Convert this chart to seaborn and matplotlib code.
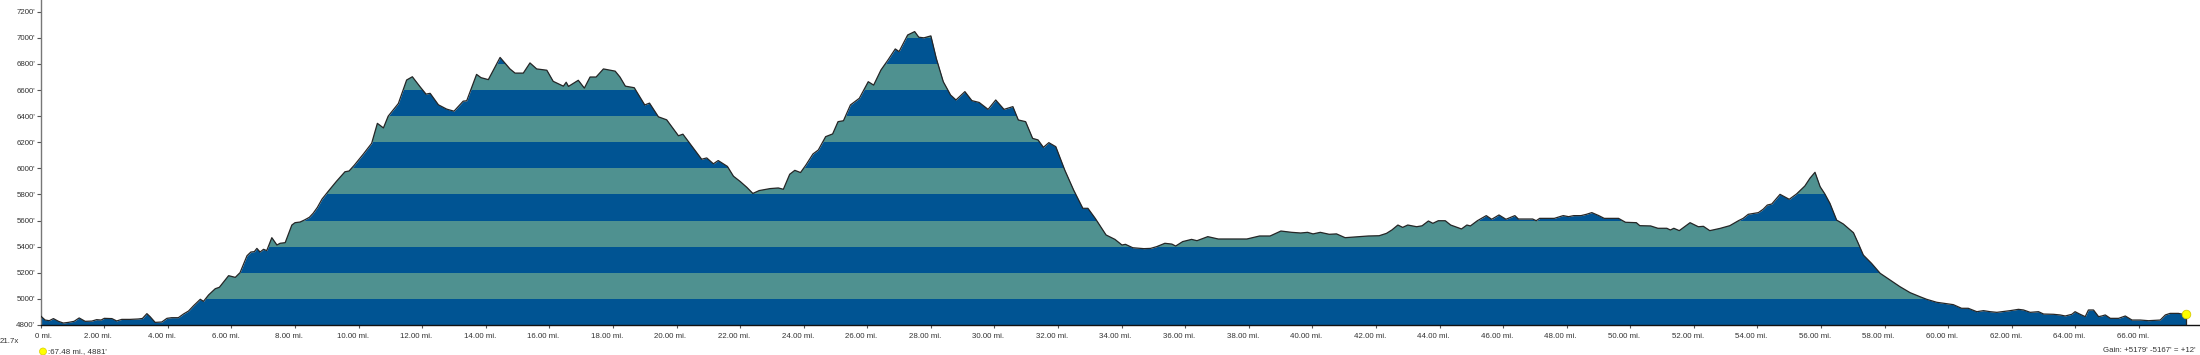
import matplotlib
matplotlib.use("Agg")
import matplotlib.pyplot as plt
import matplotlib.transforms as mtransforms
from matplotlib.patches import Ellipse
import pandas as pd
import seaborn as sns


# elevation profile (miles, feet)
MILES = [
    0.00, 0.14, 0.27, 0.40, 0.56, 0.71, 0.87, 1.05, 1.21, 1.40, 1.61, 1.76, 1.90, 2.00, 2.24, 2.39,
    2.55, 2.81, 3.07, 3.20, 3.34, 3.44, 3.60, 3.81, 3.97, 4.12, 4.33, 4.49, 4.65, 4.81, 5.02, 5.12,
    5.28, 5.49, 5.62, 5.91, 6.12, 6.27, 6.49, 6.61, 6.72, 6.80, 6.90, 7.01, 7.11, 7.27, 7.43, 7.53,
    7.69, 7.90, 8.00, 8.16, 8.30, 8.45, 8.57, 8.70, 8.85, 9.08, 9.30, 9.57, 9.70, 9.87, 10.15, 10.41,
    10.59, 10.78, 10.93, 11.25, 11.51, 11.69, 11.93, 12.12, 12.25, 12.51, 12.77, 13.00, 13.29, 13.40,
    13.71, 13.85, 14.08, 14.45, 14.76, 14.92, 15.18, 15.39, 15.60, 15.92, 16.12, 16.44, 16.53, 16.60,
    16.91, 17.10, 17.28, 17.47, 17.70, 18.07, 18.22, 18.39, 18.67, 19.00, 19.15, 19.43, 19.69, 20.06,
    20.20, 20.50, 20.79, 20.95, 21.16, 21.31, 21.60, 21.79, 22.00, 22.21, 22.40, 22.60, 22.94, 23.20,
    23.36, 23.56, 23.72, 23.90, 24.07, 24.29, 24.46, 24.69, 24.91, 25.08, 25.25, 25.47, 25.75, 26.03,
    26.20, 26.43, 26.65, 26.88, 27.00, 27.27, 27.49, 27.62, 27.78, 28.00, 28.17, 28.39, 28.62, 28.79,
    29.07, 29.29, 29.52, 29.80, 30.04, 30.30, 30.58, 30.75, 30.98, 31.20, 31.37, 31.54, 31.71, 31.93,
    32.21, 32.49, 32.78, 32.94, 33.17, 33.51, 33.79, 34.01, 34.12, 34.35, 34.70, 34.91, 35.10, 35.36,
    35.58, 35.70, 35.92, 36.20, 36.37, 36.71, 37.04, 37.94, 38.34, 38.67, 39.01, 39.35, 39.63, 39.85,
    40.02, 40.25, 40.53, 40.76, 41.03, 41.31, 41.76, 42.10, 42.33, 42.50, 42.69, 42.84, 43.00, 43.28,
    43.45, 43.65, 43.79, 43.96, 44.18, 44.35, 44.69, 44.86, 44.97, 45.19, 45.47, 45.64, 45.87, 46.09,
    46.37, 46.48, 46.93, 47.04, 47.15, 47.61, 47.89, 48.06, 48.22, 48.45, 48.62, 48.79, 49.01, 49.18,
    49.63, 49.85, 50.19, 50.30, 50.64, 50.87, 51.15, 51.26, 51.37, 51.54, 51.88, 52.14, 52.30, 52.50,
    52.82, 53.13, 53.40, 53.55, 53.71, 54.03, 54.18, 54.31, 54.45, 54.71, 55.00, 55.23, 55.49, 55.65,
    55.81, 55.97, 56.12, 56.28, 56.49, 56.70, 57.02, 57.17, 57.33, 57.59, 57.86, 58.17, 58.48, 58.80,
    59.11, 59.32, 59.64, 60.00, 60.16, 60.42, 60.63, 60.90, 61.11, 61.32, 61.53, 61.69, 61.95, 62.21,
    62.37, 62.58, 62.84, 63.00, 63.31, 63.52, 63.68, 63.89, 63.99, 64.15, 64.31, 64.41, 64.57, 64.73,
    64.83, 64.94, 65.10, 65.36, 65.57, 65.78, 66.04, 66.30, 66.67, 66.83, 66.98, 67.24, 67.38, 67.48,
]
ELEV_FT = [
    4869, 4838, 4833, 4849, 4828, 4815, 4820, 4828, 4854, 4828, 4830, 4841, 4838, 4851, 4849, 4831,
    4843, 4843, 4846, 4850, 4887, 4864, 4820, 4823, 4851, 4856, 4856, 4884, 4907, 4948, 4997, 4981,
    5030, 5078, 5089, 5178, 5165, 5201, 5331, 5359, 5362, 5387, 5359, 5380, 5370, 5469, 5413, 5426,
    5431, 5566, 5584, 5589, 5605, 5625, 5656, 5700, 5765, 5835, 5900, 5974, 5980, 6026, 6110, 6192,
    6345, 6310, 6400, 6497, 6677, 6702, 6626, 6569, 6575, 6487, 6454, 6438, 6515, 6518,
    6720, 6695, 6680, 6850, 6762, 6730, 6730, 6808, 6762, 6752, 6667, 6630, 6660, 6628,
    6675, 6615, 6700, 6700, 6762, 6745, 6700, 6630, 6618, 6486, 6500, 6395, 6372, 6250,
    6262, 6165, 6070, 6080, 6035, 6060, 6015, 5940, 5900, 5855, 5808, 5830, 5845, 5850,
    5840, 5955, 5985, 5968, 6026, 6110, 6141, 6243, 6264, 6358, 6365, 6486, 6537, 6664,
    6638, 6754, 6830, 6915, 6895, 7022, 7048, 7005, 7000, 7015, 6843, 6664, 6562, 6524,
    6588, 6519, 6505, 6452, 6524, 6452, 6473, 6371, 6358, 6230, 6218, 6161, 6197, 6166,
    5988, 5834, 5694, 5694, 5617, 5490, 5456, 5413, 5418, 5392, 5385, 5387, 5400, 5426,
    5420, 5405, 5439, 5456, 5446, 5477, 5459, 5459, 5482, 5482, 5520, 5510, 5505, 5510,
    5498, 5510, 5495, 5498, 5469, 5474, 5482, 5484, 5502, 5528, 5566, 5548, 5566, 5553,
    5560, 5597, 5579, 5599, 5599, 5566, 5536, 5566, 5559, 5599, 5638, 5610, 5643, 5610,
    5638, 5612, 5612, 5599, 5617, 5617, 5638, 5630, 5638, 5638, 5648, 5661, 5638, 5617,
    5617, 5587, 5584, 5561, 5559, 5541, 5541, 5528, 5541, 5523, 5584, 5553, 5556, 5523,
    5540, 5561, 5599, 5617, 5648, 5661, 5687, 5719, 5727, 5801, 5763, 5804, 5865, 5924,
    5970, 5860, 5804, 5732, 5604, 5574, 5507, 5426, 5336, 5272, 5196, 5145, 5094, 5048,
    5017, 4997, 4974, 4961, 4956, 4928, 4928, 4902, 4910, 4902, 4897, 4902, 4910, 4920,
    4915, 4897, 4902, 4884, 4882, 4877, 4869, 4882, 4902, 4882, 4864, 4915, 4915, 4864,
    4869, 4877, 4851, 4851, 4869, 4838, 4838, 4833, 4838, 4877, 4889, 4889, 4882, 4881,
]

Y_TICKS = [4800, 5000, 5200, 5400, 5600, 5800, 6000, 6200, 6400, 6600, 6800, 7000, 7200]
X_TICKS = list(range(0, 67, 2))
X_LABELS = ["0 mi."] + [f"{m:.2f} mi." for m in X_TICKS[1:]]
TEAL_BANDS = [5000, 5400, 5800, 6200, 6600, 7000]

END_MI, END_FT = 67.48, 4881
SCALE_TEXT = "21.7x"
CURSOR_TEXT = ":67.48 mi., 4881'"
GAIN_TEXT = "Gain: +5179' -5167' = +12'"

BLUE = "#005493"
TEAL = "#4f9190"
INK = "#333333"
EDGE = "#262626"

W, H = 2200, 355


def main() -> None:
    sns.set_theme(style="ticks")
    plt.rcParams["font.family"] = ["Liberation Sans", "DejaVu Sans"]

    df = pd.DataFrame({"mi": MILES, "ft": ELEV_FT})

    fig = plt.figure(figsize=(W / 100, H / 100), dpi=100)
    ax = fig.add_axes([40.7 / W, 30 / H, 1 - 40.7 / W, 325 / H])

    # blue base area, teal stripes clipped to the same outline
    area = ax.fill_between(df["mi"], 4800, df["ft"], color=BLUE, lw=0, zorder=1)
    clip = area.get_paths()[0]
    for lo in TEAL_BANDS:
        band = ax.axhspan(lo, lo + 200, color=TEAL, lw=0, zorder=2)
        band.set_clip_path(clip, ax.transData)

    sns.lineplot(data=df, x="mi", y="ft", color=EDGE, lw=0.9, ax=ax, zorder=3)
    ax.vlines(END_MI, 4800, END_FT, color=EDGE, lw=0.9, zorder=3)
    sns.scatterplot(x=[END_MI], y=[END_FT], color="#ffff00", s=38, edgecolor="#d8cc00",
                    linewidth=0.6, ax=ax, zorder=4, clip_on=False)

    ax.set_xlim(0, 67.92)
    ax.set_ylim(4800, 7290)
    ax.set_xticks(X_TICKS)
    ax.set_xticklabels(X_LABELS)
    ax.set_yticks(Y_TICKS)
    ax.set_yticklabels([f"{v}'" for v in Y_TICKS])
    ax.set_xlabel("")
    ax.set_ylabel("")
    ax.grid(False)
    sns.despine(ax=ax)
    ax.spines["left"].set_color("#777777")
    ax.spines["bottom"].set_color("#111111")
    ax.spines["left"].set_linewidth(1.0)
    ax.spines["bottom"].set_linewidth(1.0)
    ax.tick_params(axis="y", direction="out", length=3, width=0.8, color="#555555",
                   labelsize=5.7, labelcolor=INK, pad=1)
    ax.tick_params(axis="x", direction="out", length=2.5, width=0.8, color="#555555",
                   labelsize=5.7, labelcolor=INK, pad=3)

    # mileage labels sit a little left of their ticks, the first one a little right
    for i, lab in enumerate(ax.get_xticklabels()):
        dx = 3 if i == 0 else -6
        lab.set_transform(lab.get_transform() + mtransforms.ScaledTranslation(dx / 100, 0, fig.dpi_scale_trans))

    # footer
    fig.text(0, 1 - 341.7 / H, SCALE_TEXT, ha="left", va="center", fontsize=5.7, color=INK)
    fig.add_artist(Ellipse((43 / W, 1 - 351.5 / H), 7 / W, 7 / H, transform=fig.transFigure,
                           facecolor="#ffff00", edgecolor="#d8cc00", lw=0.5))
    fig.text(48 / W, 1 - 351.5 / H, CURSOR_TEXT, ha="left", va="center", fontsize=5.7, color=INK)
    fig.text(2196 / W, 1 - 351 / H, GAIN_TEXT, ha="right", va="center", fontsize=5.7, color=INK)

    fig.savefig("out.png", dpi=100)
    plt.close(fig)


if __name__ == "__main__":
    main()
